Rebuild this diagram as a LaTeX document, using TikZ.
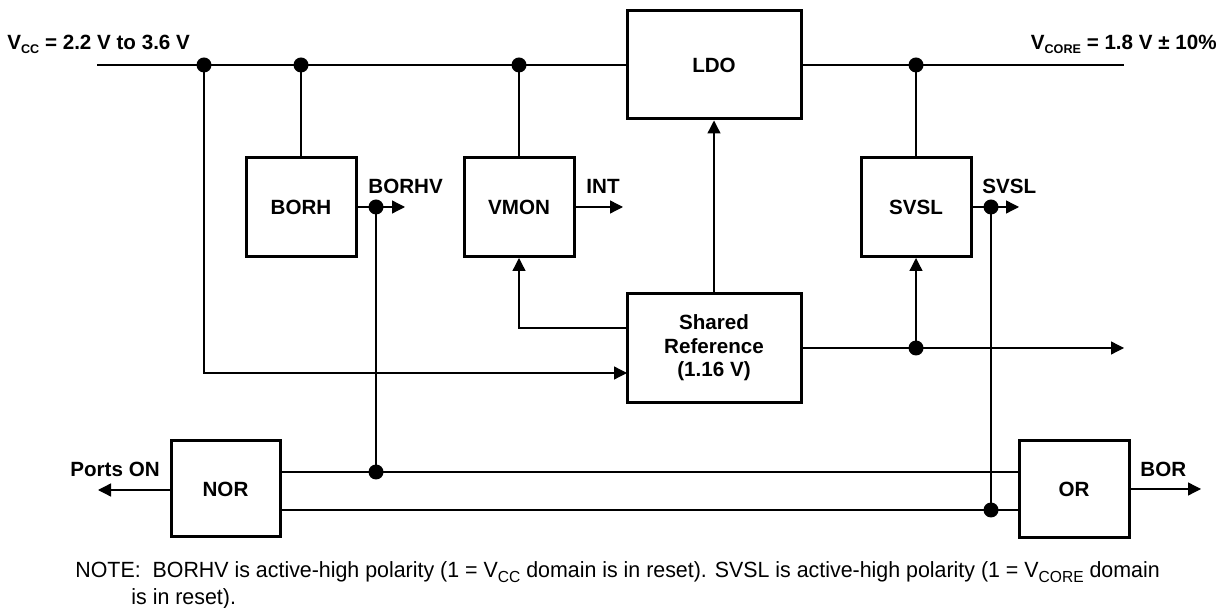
\documentclass[tikz,border=0pt]{standalone}
\usepackage{fontspec}
\setmainfont{Liberation Sans}
\usetikzlibrary{arrows.meta}
\newcommand{\lowsub}[1]{\raisebox{-0.3ex}{\fontsize{6.3}{7}\selectfont #1}}
\newcommand{\notesub}[1]{\raisebox{-0.35ex}{\fontsize{8}{9}\selectfont #1}}
\tikzset{
  blk/.style={draw, line width=1.5pt, inner sep=0pt, align=center,
              font=\bfseries\fontsize{10.3}{11.75}\selectfont},
  wire/.style={line width=0.65pt},
  arr/.style={wire, -{Triangle[length=6.5pt,width=6.5pt]}},
  jdot/.style={circle, fill, inner sep=0pt, minimum size=7.5pt},
  lbl/.style={font=\bfseries\fontsize{10.3}{12}\selectfont, inner sep=0pt},
  notetxt/.style={font=\fontsize{11}{13}\selectfont, inner sep=0pt}
}
\begin{document}
\begin{tikzpicture}[x=0.5pt,y=-0.5pt]
\useasboundingbox (0,0) rectangle (1226,608);
% blocks
\node[blk, minimum width=87pt, minimum height=54pt] (LDO) at (714,65) {LDO};
\node[blk, minimum width=55pt, minimum height=49.5pt] (BORH) at (301,207) {BORH};
\node[blk, minimum width=55pt, minimum height=49.5pt] (VMON) at (519,207) {VMON};
\node[blk, minimum width=55pt, minimum height=49.5pt] (SVSL) at (916,207) {SVSL};
\node[blk, minimum width=87pt, minimum height=54.5pt] (REF) at (714,348) {Shared\\Reference\\(1.16 V)};
\node[blk, minimum width=54.5pt, minimum height=48pt] (NOR) at (225.5,489) {NOR};
\node[blk, minimum width=55pt, minimum height=48.5pt] (OR) at (1074,489.5) {OR};
% coordinates
\coordinate (railL) at (97,65);
\coordinate (railR) at (1124,65);
\coordinate (jV) at (204,65);
\coordinate (jB) at (301,65);
\coordinate (jM) at (519,65);
\coordinate (jC) at (916,65);
\coordinate (refin) at (627,373);
\coordinate (refoutL) at (627,328);
\coordinate (refTip) at (1124,348);
\coordinate (jS) at (916,348);
\coordinate (bhO) at (376,207);
\coordinate (bhTip) at (405,207);
\coordinate (intTip) at (623,207);
\coordinate (svO) at (991,207);
\coordinate (svTip) at (1019,207);
\coordinate (jN) at (376,472);
\coordinate (norA) at (280,472);
\coordinate (orA) at (1019,472);
\coordinate (norB) at (280,510);
\coordinate (orB) at (1019,510);
\coordinate (jO) at (991,510);
\coordinate (norOut) at (171,490);
\coordinate (portsTip) at (98,490);
\coordinate (orOut) at (1129,489);
\coordinate (borTip) at (1201,489);
% rails
\draw[wire] (railL) -- (LDO.west);
\draw[wire] (LDO.east) -- (railR);
\draw[wire] (jB) -- (BORH.north);
\draw[wire] (jM) -- (VMON.north);
\draw[wire] (jC) -- (SVSL.north);
% reference connections
\draw[arr] (jV) |- (refin);
\draw[arr] (refoutL) -| (VMON.south);
\draw[arr] (REF.north) -- (LDO.south);
\draw[arr] (REF.east) -- (refTip);
\draw[arr] (jS) -- (SVSL.south);
% outputs
\draw[arr] (BORH.east) -- (bhTip);
\draw[arr] (VMON.east) -- (intTip);
\draw[arr] (SVSL.east) -- (svTip);
\draw[wire] (bhO) -- (jN);
\draw[wire] (svO) -- (jO);
\draw[wire] (norA) -- (orA);
\draw[wire] (norB) -- (orB);
\draw[arr] (norOut) -- (portsTip);
\draw[arr] (orOut) -- (borTip);
% dots
\foreach \p in {jV,jB,jM,jC,jS,bhO,svO,jN,jO} \node[jdot] at (\p) {};
% labels
\node[lbl, anchor=base west] (vcc) at (7,50) {V\lowsub{CC} = 2.2 V to 3.6 V};
\node[lbl, anchor=base east] (vcore) at (1217,50) {V\lowsub{CORE} = 1.8 V ± 10\%};
\node[lbl, anchor=base west] (borhv) at (368,194) {BORHV};
\node[lbl, anchor=base west] (int) at (586,194) {INT};
\node[lbl, anchor=base west] (svsl) at (982,194) {SVSL};
\node[lbl, anchor=base west] (ports) at (70,477) {Ports ON};
\node[lbl, anchor=base west] (bor) at (1140,477) {BOR};
\node[notetxt, anchor=base west] (note1) at (75,578) {\scalebox{0.972}[1]{NOTE:\ \ BORHV is active-high polarity (1 = V\notesub{CC} domain is in reset). SVSL is active-high polarity (1 = V\notesub{CORE} domain}};
\node[notetxt, anchor=base west] (note2) at (131,604) {\scalebox{0.972}[1]{is in reset).}};
\end{tikzpicture}
\end{document}
